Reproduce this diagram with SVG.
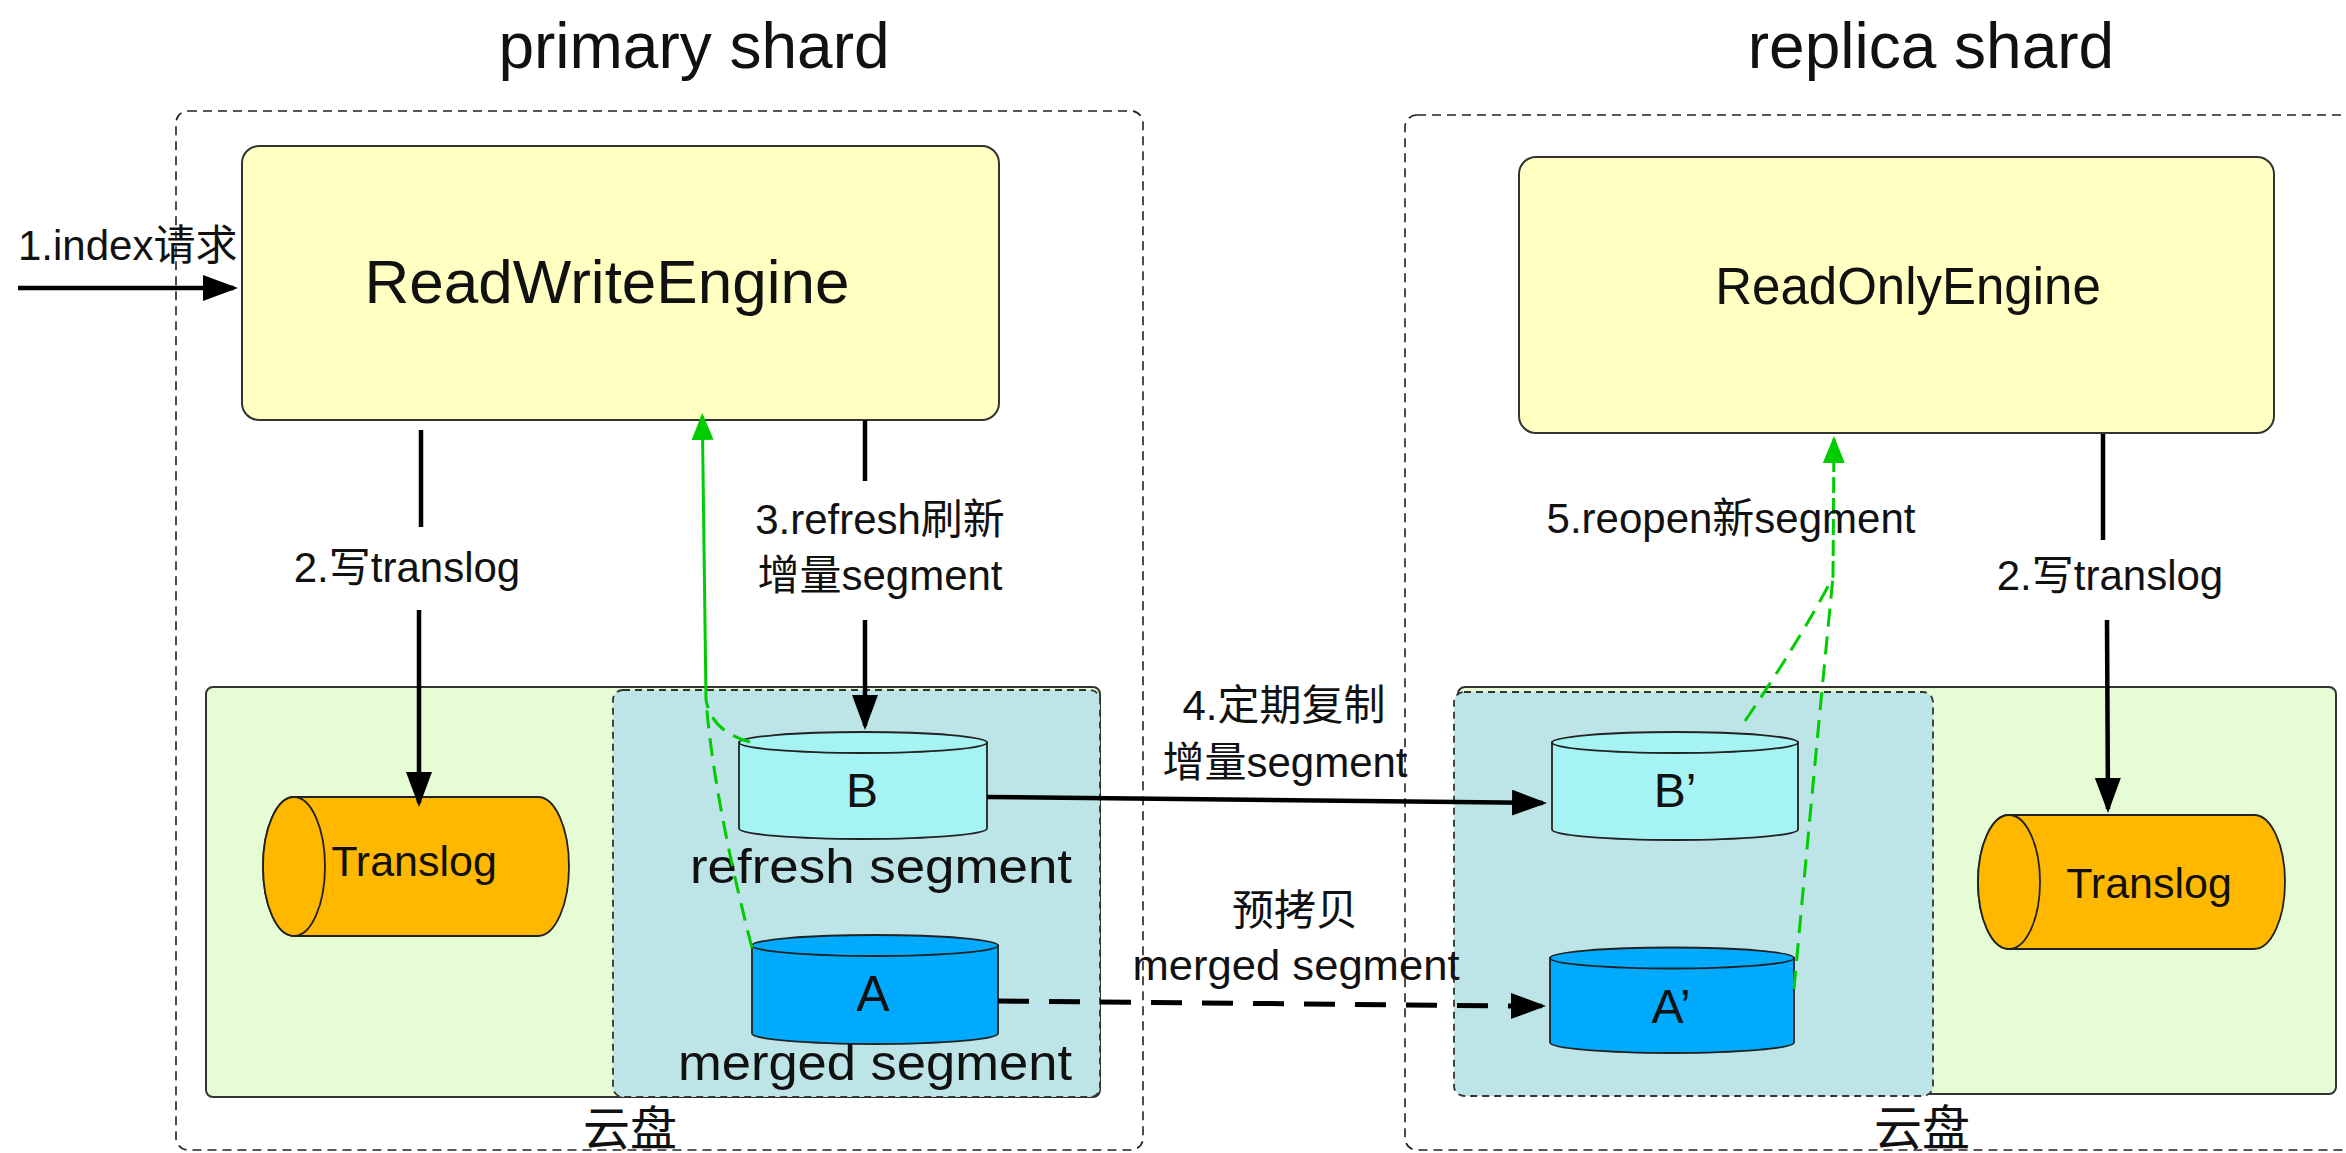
<svg xmlns="http://www.w3.org/2000/svg" width="2346" height="1153" viewBox="0 0 2346 1153">
  <defs>
    <style>
      text { font-family: "Liberation Sans", Arial, "Noto Sans CJK SC", sans-serif; fill: #111; }
      .title { font-size: 64px; text-anchor: middle; }
      .lbl { font-size: 42px; }
      .mid { text-anchor: middle; }
      .shard { fill: none; stroke: #222; stroke-width: 1.6; stroke-dasharray: 9 6; }
      .engine { fill: #FFFFC2; stroke: #333; stroke-width: 2; }
      .disk { fill: #E6FCD4; stroke: #333; stroke-width: 2; }
      .seg { fill: #BDE4E6; stroke: #333; stroke-width: 1.8; stroke-dasharray: 7 5; }
      .cyl-b { fill: #A6F3F3; stroke: #222; stroke-width: 1.8; }
      .cyl-a { fill: #00AAFF; stroke: #222; stroke-width: 1.8; }
      .cyl-t { fill: #FFB800; stroke: #222; stroke-width: 1.8; }
      .flow { fill: none; stroke: #000; stroke-width: 4.5; }
      .flow-dash { fill: none; stroke: #000; stroke-width: 5; stroke-dasharray: 31 20; }
      .open { fill: none; stroke: #00CC00; stroke-width: 3; }
      .open-dash { fill: none; stroke: #00CC00; stroke-width: 3; stroke-dasharray: 18 10; }
    </style>
    <marker id="arrow" markerUnits="userSpaceOnUse" markerWidth="40" markerHeight="30" refX="31" refY="13" orient="auto">
      <path d="M0,0 L35,13 L0,26 Z" fill="#000"/>
    </marker>
    <marker id="arrow-green" markerUnits="userSpaceOnUse" markerWidth="30" markerHeight="24" refX="24" refY="11" orient="auto">
      <path d="M0,0 L27,11 L0,22 Z" fill="#00CC00"/>
    </marker>
  </defs>

  <rect width="2346" height="1153" fill="#fff"/>

  <!-- shard titles -->
  <text class="title" x="694" y="68">primary shard</text>
  <text class="title" x="1931" y="68">replica shard</text>

  <!-- shard containers -->
  <g id="primary-shard">
    <rect class="shard" x="176" y="111" width="967" height="1039" rx="12"/>
  </g>
  <g id="replica-shard">
    <rect class="shard" x="1405" y="115" width="960" height="1035" rx="12"/>
  </g>

  <!-- cloud disks -->
  <g id="primary-disk">
    <rect class="disk" x="206" y="687" width="894" height="410" rx="7"/>
    <text class="mid" x="630" y="1145" font-size="47">云盘</text>
  </g>
  <g id="replica-disk">
    <rect class="disk" x="1458" y="687" width="878" height="407" rx="7"/>
    <text class="mid" x="1922" y="1145" font-size="48">云盘</text>
  </g>

  <!-- segment areas -->
  <g id="primary-segments">
    <rect class="seg" x="613" y="690" width="487" height="407" rx="10"/>
  </g>
  <g id="replica-segments">
    <rect class="seg" x="1454" y="692" width="479" height="404" rx="10"/>
  </g>

  <!-- engines -->
  <g id="read-write-engine">
    <rect class="engine" x="242" y="146" width="757" height="274" rx="17"/>
    <text class="mid" x="607" y="303" font-size="62">ReadWriteEngine</text>
  </g>
  <g id="read-only-engine">
    <rect class="engine" x="1519" y="157" width="755" height="276" rx="17"/>
    <text class="mid" x="1908" y="304" font-size="51">ReadOnlyEngine</text>
  </g>

  <!-- translog cylinders (horizontal) -->
  <g id="translog-primary">
    <path class="cyl-t" d="M294,797 H538 A31,69.5 0 0 1 538,936 H294 A31,69.5 0 0 1 294,797 Z"/>
    <ellipse class="cyl-t" cx="294" cy="866.5" rx="31" ry="69.5"/>
    <text class="mid" x="414" y="876" font-size="43">Translog</text>
  </g>
  <g id="translog-replica">
    <path class="cyl-t" d="M2009,815 H2254 A31,67 0 0 1 2254,949 H2009 A31,67 0 0 1 2009,815 Z"/>
    <ellipse class="cyl-t" cx="2009" cy="882" rx="31" ry="67"/>
    <text class="mid" x="2149" y="898" font-size="43">Translog</text>
  </g>

  <!-- segment cylinders -->
  <g id="segment-b">
    <path class="cyl-b" d="M739,742.5 V828.5 A124,10.5 0 0 0 987,828.5 V742.5 Z"/>
    <ellipse class="cyl-b" cx="863" cy="742.5" rx="124" ry="10.5"/>
    <text class="mid" x="862" y="807" font-size="48">B</text>
    <text class="mid" x="881" y="883" font-size="49" textLength="382" lengthAdjust="spacingAndGlyphs">refresh segment</text>
  </g>
  <g id="segment-a">
    <path class="cyl-a" d="M752,945.5 V1033.5 A123,10.5 0 0 0 998,1033.5 V945.5 Z"/>
    <ellipse class="cyl-a" cx="875" cy="945.5" rx="123" ry="10.5"/>
    <text class="mid" x="873" y="1011" font-size="50">A</text>
    <text class="mid" x="875" y="1080" font-size="50" textLength="394" lengthAdjust="spacingAndGlyphs">merged segment</text>
  </g>
  <g id="segment-b-copy">
    <path class="cyl-b" d="M1552,742.5 V829.5 A123,10.5 0 0 0 1798,829.5 V742.5 Z"/>
    <ellipse class="cyl-b" cx="1675" cy="742.5" rx="123" ry="10.5"/>
    <text class="mid" x="1675" y="807" font-size="48">B’</text>
  </g>
  <g id="segment-a-copy">
    <path class="cyl-a" d="M1550,958 V1042.5 A122,10.5 0 0 0 1794,1042.5 V958 Z"/>
    <ellipse class="cyl-a" cx="1672" cy="958" rx="122" ry="10.5"/>
    <text class="mid" x="1671" y="1023" font-size="48">A’</text>
  </g>

  <!-- connectors -->
  <g id="connectors">
    <!-- 1. index request -->
    <line class="flow" x1="18" y1="288" x2="234" y2="288" marker-end="url(#arrow)"/>
    <!-- 2. write translog (primary) -->
    <line class="flow" x1="421" y1="430" x2="421" y2="527"/>
    <line class="flow" x1="419" y1="610" x2="419" y2="803" marker-end="url(#arrow)"/>
    <!-- 3. refresh -->
    <line class="flow" x1="865" y1="420" x2="865" y2="481"/>
    <line class="flow" x1="865" y1="620" x2="865" y2="726" marker-end="url(#arrow)"/>
    <!-- 4. periodic copy B -> B' -->
    <line class="flow" x1="987" y1="797" x2="1543" y2="803" marker-end="url(#arrow)"/>
    <!-- pre-copy A -> A' -->
    <line class="flow-dash" x1="998" y1="1001" x2="1520" y2="1006"/>
    <line class="flow" x1="1520" y1="1006" x2="1542" y2="1006" marker-end="url(#arrow)"/>
    <!-- 2. write translog (replica) -->
    <line class="flow" x1="2103" y1="434" x2="2103" y2="540"/>
    <line class="flow" x1="2107" y1="620" x2="2108" y2="809" marker-end="url(#arrow)"/>

    <!-- primary: new segments opened by the engine -->
    <path class="open-dash" d="M750,742 Q712,732 706,700"/>
    <path class="open-dash" d="M752,948 Q714,800 706,700"/>
    <line class="open" x1="706" y1="700" x2="702.3" y2="416" marker-end="url(#arrow-green)"/>

    <!-- replica: reopen new segments -->
    <path class="open-dash" d="M1745,721 Q1800,640 1833,577"/>
    <path class="open-dash" d="M1794,989 Q1815,760 1833,577"/>
    <line class="open" x1="1833" y1="577" x2="1834" y2="439" stroke-dasharray="16 5" marker-end="url(#arrow-green)"/>
  </g>

  <!-- connector labels -->
  <text class="lbl" x="18" y="260">1.index请求</text>
  <text class="lbl mid" x="407" y="582">2.写translog</text>
  <text class="lbl mid" x="880" y="534">3.refresh刷新</text>
  <text class="lbl mid" x="880" y="590">增量segment</text>
  <text class="lbl mid" x="1284" y="720">4.定期复制</text>
  <text class="lbl mid" x="1285" y="777">增量segment</text>
  <text class="lbl mid" x="1295" y="925">预拷贝</text>
  <text class="mid" x="1296" y="980" font-size="43" textLength="327" lengthAdjust="spacingAndGlyphs">merged segment</text>
  <text class="lbl mid" x="1731" y="533">5.reopen新segment</text>
  <text class="lbl mid" x="2110" y="590">2.写translog</text>
</svg>
